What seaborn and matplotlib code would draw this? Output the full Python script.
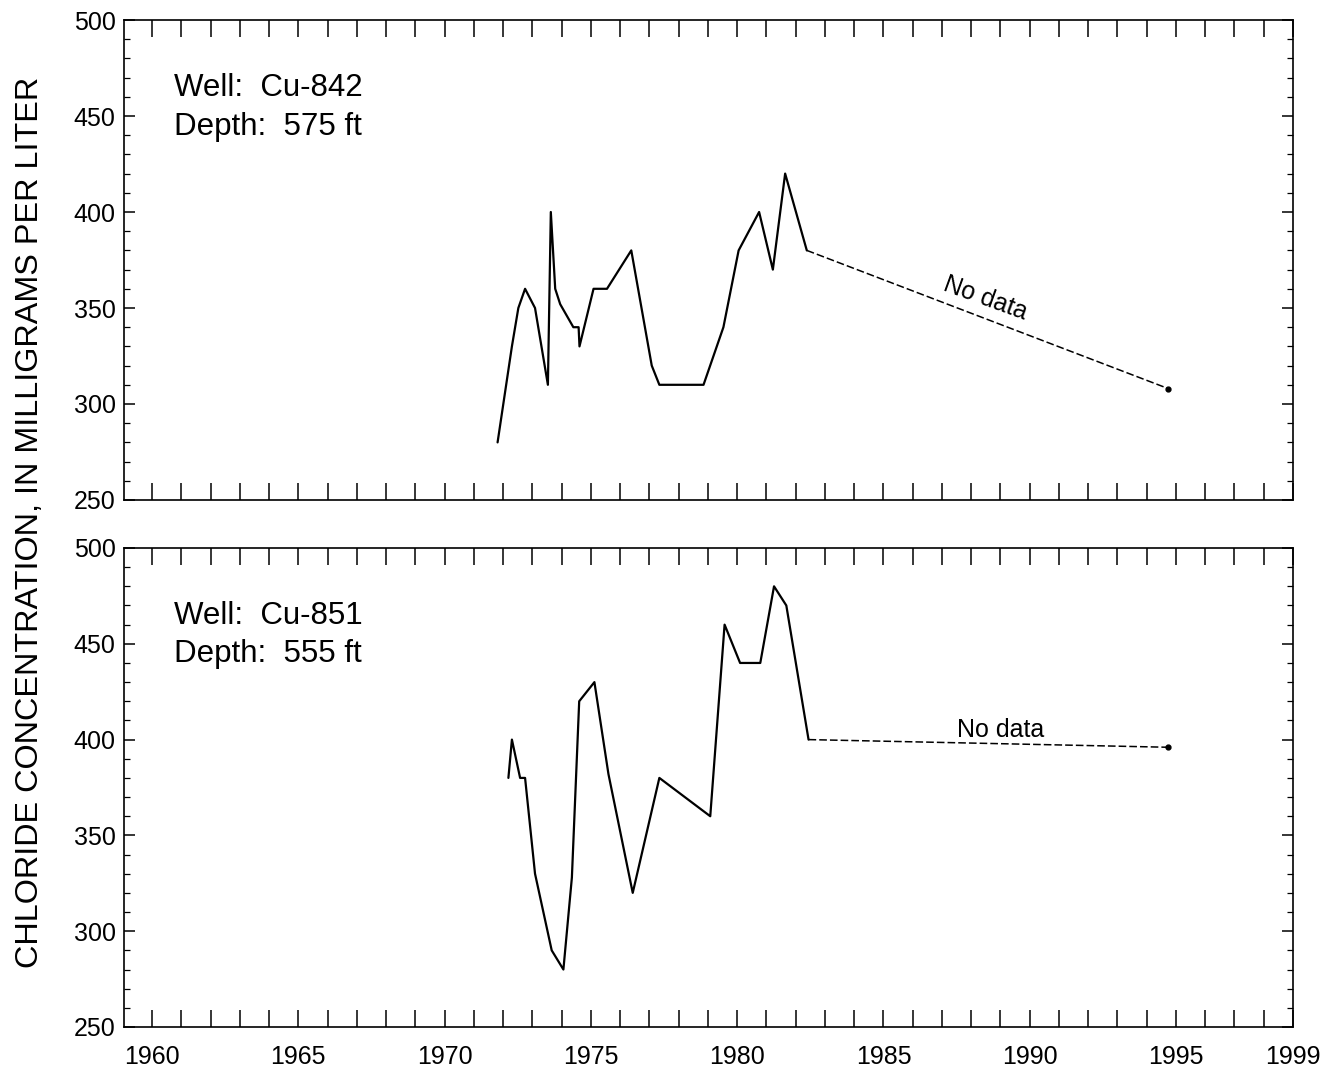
import matplotlib
matplotlib.use("Agg")
import matplotlib.pyplot as plt
from matplotlib.ticker import MultipleLocator, FixedLocator
import seaborn as sns
import pandas as pd

# ---- data ----
years_842 = [1971.81, 1972.30, 1972.52, 1972.75, 1973.09, 1973.53, 1973.63, 1973.78,
             1973.95, 1974.40, 1974.58, 1974.61, 1975.09, 1975.55, 1976.38, 1977.08,
             1977.34, 1978.85, 1979.53, 1980.05, 1980.75, 1981.22, 1981.64, 1982.38]
chloride_842 = [280, 330, 350, 360, 350, 310, 400, 360,
                352, 340, 340, 330, 360, 360, 380, 320,
                310, 310, 340, 380, 400, 370, 420, 380]
gap_years_842 = [1982.38, 1994.74]
gap_chloride_842 = [380, 308]

years_851 = [1972.18, 1972.30, 1972.58, 1972.75, 1973.09, 1973.66, 1974.06, 1974.35,
             1974.60, 1975.12, 1975.60, 1976.43, 1977.34, 1979.08, 1979.57, 1980.10,
             1980.79, 1981.26, 1981.68, 1982.44]
chloride_851 = [380, 400, 380, 380, 330, 290, 280, 328,
                420, 430, 382, 320, 380, 360, 460, 440,
                440, 480, 470, 400]
gap_years_851 = [1982.44, 1994.74]
gap_chloride_851 = [400, 396]

well_labels = ["Well:  Cu-842\nDepth:  575 ft", "Well:  Cu-851\nDepth:  555 ft"]
xtick_years = [1960, 1965, 1970, 1975, 1980, 1985, 1990, 1995, 1999]
ylabel = "CHLORIDE CONCENTRATION, IN MILLIGRAMS PER LITER"

# ---- style ----
sns.set_style("ticks")
plt.rcParams["font.family"] = ["Liberation Sans", "DejaVu Sans"]
plt.rcParams["text.color"] = "black"
plt.rcParams["xtick.color"] = "black"
plt.rcParams["ytick.color"] = "black"

fig = plt.figure(figsize=(13.2, 10.75), dpi=100)
W, H = 1320, 1075
ax_top = fig.add_axes([124 / W, 1 - 500 / H, (1293 - 124) / W, 480 / H])
ax_bot = fig.add_axes([124 / W, 1 - 1027 / H, (1293 - 124) / W, 479 / H])

panels = [
    (ax_top, years_842, chloride_842, gap_years_842, gap_chloride_842, well_labels[0]),
    (ax_bot, years_851, chloride_851, gap_years_851, gap_chloride_851, well_labels[1]),
]

for i, (ax, yr, cl, gyr, gcl, lab) in enumerate(panels):
    df = pd.DataFrame({"year": yr, "chloride": cl})
    gdf = pd.DataFrame({"year": gyr, "chloride": gcl})
    sns.lineplot(data=df, x="year", y="chloride", ax=ax, color="black",
                 linewidth=1.6, sort=False, estimator=None)
    sns.lineplot(data=gdf, x="year", y="chloride", ax=ax, color="black",
                 linewidth=1.1, linestyle=(0, (5, 2)), sort=False, estimator=None)
    ax.plot(gdf["year"].iloc[-1:], gdf["chloride"].iloc[-1:], "o", color="black",
            markersize=3.5)

    ax.set_xlim(1959.04, 1999)
    ax.set_ylim(250, 500)
    ax.set_xlabel("")
    ax.set_ylabel("")

    ax.xaxis.set_major_locator(FixedLocator(xtick_years))
    ax.xaxis.set_minor_locator(MultipleLocator(1))
    ax.yaxis.set_major_locator(MultipleLocator(50))
    ax.yaxis.set_minor_locator(MultipleLocator(10))

    ax.tick_params(axis="x", which="both", direction="in", top=True, bottom=True,
                   length=12, width=1.1, labelsize=18, pad=13)
    ax.tick_params(axis="y", which="major", direction="in", left=True, right=True,
                   length=8, width=1.1, labelsize=18, pad=6)
    ax.tick_params(axis="y", which="minor", direction="in", left=True, right=True,
                   length=4, width=0.9)
    for s in ax.spines.values():
        s.set_visible(True)
        s.set_linewidth(1.2)
        s.set_color("black")

    ax.text(0.043, 0.89, lab, transform=ax.transAxes, fontsize=22.5,
            va="top", ha="left", linespacing=1.38)

ax_top.tick_params(axis="x", labelbottom=False)

ax_top.text(1988.5, 355, "No data", fontsize=18, rotation=-20,
            ha="center", va="center")
ax_bot.text(1989.0, 405, "No data", fontsize=18, ha="center", va="center")

fig.text(30 / W, 1 - 522 / H, ylabel, rotation=90, fontsize=23.3,
         ha="center", va="center")

fig.savefig("out.png", dpi=100)
